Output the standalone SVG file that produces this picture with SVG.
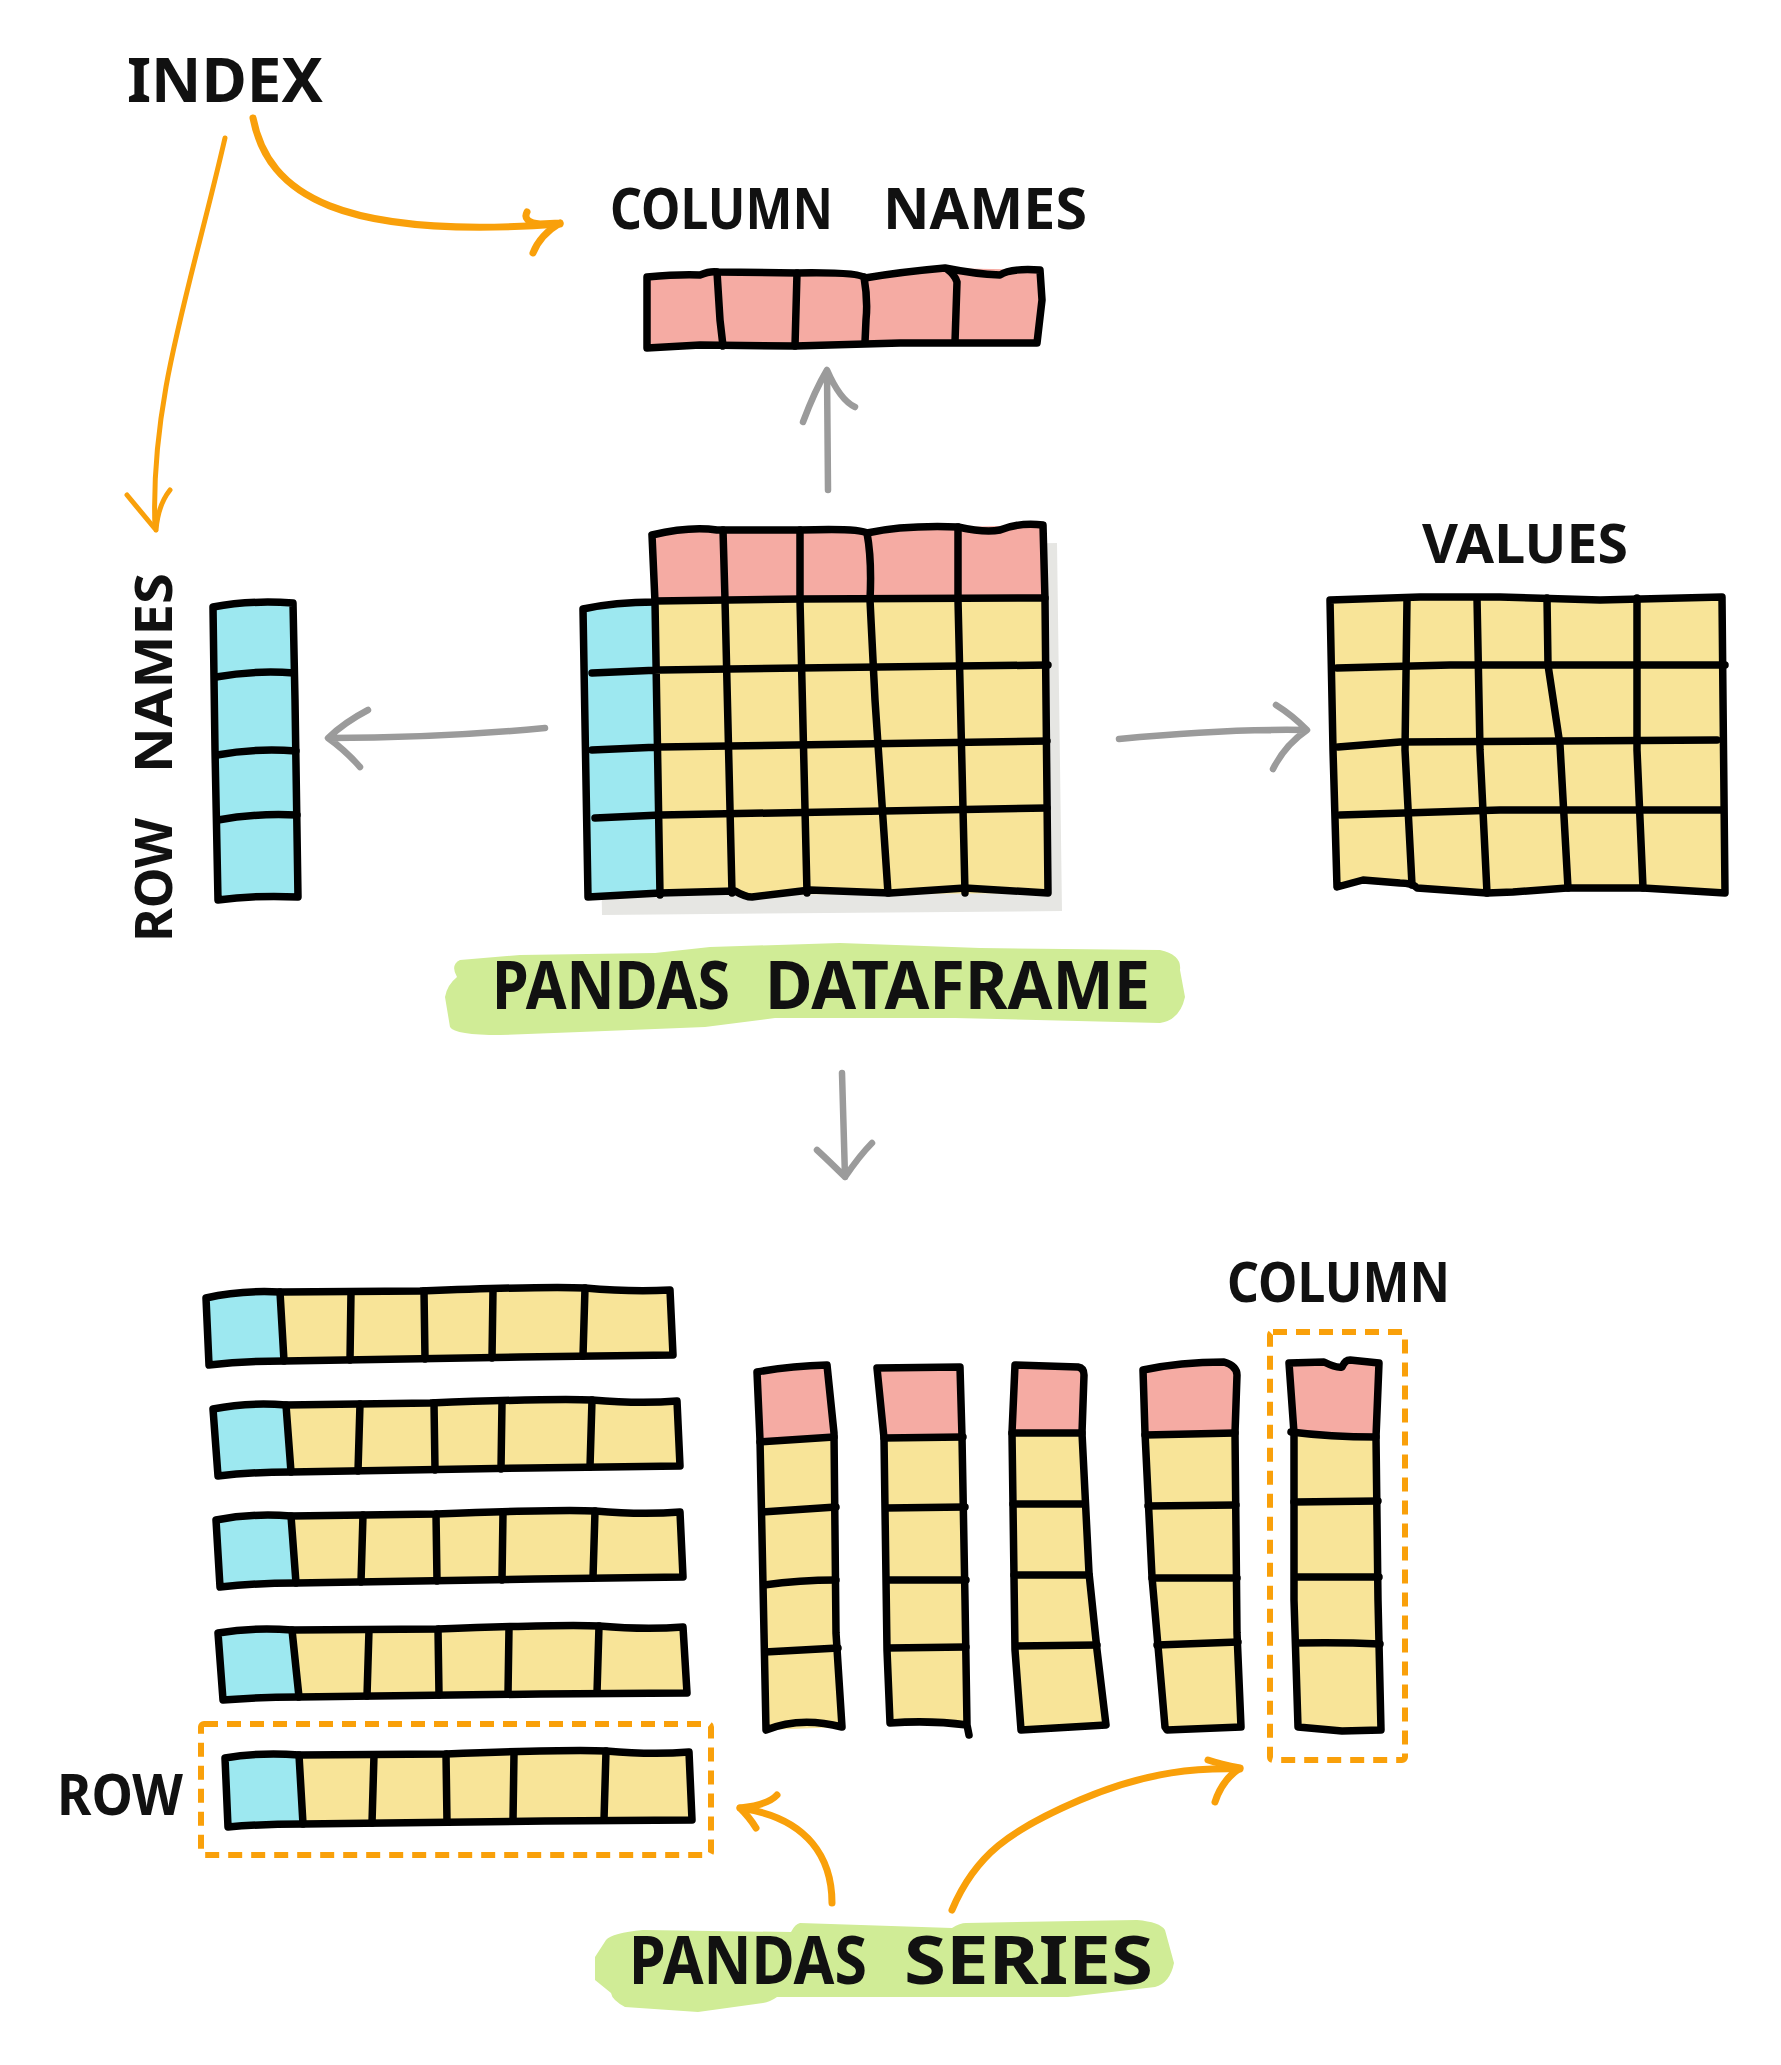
<svg xmlns="http://www.w3.org/2000/svg" width="1781" height="2065" viewBox="0 0 1781 2065">
<style>
.ln{fill:none;stroke:#000;stroke-width:7.5;stroke-linecap:round;stroke-linejoin:round}
.pink{fill:#F5ABA3}
.yel{fill:#F8E498}
.blu{fill:#9DE8F0}
.shd{fill:#E6E6E3}
.hl{fill:#D0EC96}
.oa{fill:none;stroke:#F9A00A;stroke-linecap:round;stroke-linejoin:round}
.ga{fill:none;stroke:#9B9B9B;stroke-width:6.5;stroke-linecap:round;stroke-linejoin:round}
.dash{fill:none;stroke:#F9A00A;stroke-width:6;stroke-dasharray:14 9}
.t{font-family:"Noto Sans","DejaVu Sans",sans-serif;font-weight:bold;fill:#111}
</style>
<rect width="1781" height="2065" fill="#fff"/>

<g id="label-index">
<text class="t" x="127" y="102" font-size="61" textLength="196" lengthAdjust="spacingAndGlyphs">INDEX</text>
</g>

<g id="label-column-names">
<text class="t" y="229" font-size="58"><tspan x="610" textLength="223" lengthAdjust="spacingAndGlyphs">COLUMN</tspan> <tspan x="883" textLength="204" lengthAdjust="spacingAndGlyphs">NAMES</tspan></text>
</g>

<g id="column-names-bar">
<polygon class="pink" points="647,277 717,272 797,273 863,275 940,268 1040,270 1037,343 647,348"/>
<path class="ln" d="M647,277 Q680,274 700,275 Q710,271 717,272 L797,273 Q860,272 865,278 Q900,272 945,268 Q975,274 1000,275 Q1010,268 1040,270 L1042,300 L1037,343 L900,343 L795,346 L700,345 L647,348 Z"/>
<path class="ln" d="M717,272 L720,320 L723,346 M797,273 L795,346 M864,277 Q868,300 866,320 L865,342 M947,269 Q955,275 957,282 L955,342"/>
</g>

<g id="label-row-names">
<text class="t" transform="translate(172,942) rotate(-90)" font-size="52"><tspan x="0" textLength="124" lengthAdjust="spacingAndGlyphs">ROW</tspan> <tspan x="169" textLength="200" lengthAdjust="spacingAndGlyphs">NAMES</tspan></text>
</g>

<g id="row-names-bar">
<polygon class="blu" points="213,607 293,603 298,897 218,900"/>
<path class="ln" d="M213,607 Q250,600 293,603 L295,700 L298,897 Q255,895 218,900 L215,750 Z"/>
<path class="ln" d="M216,677 Q255,670 294,673 M217,755 Q255,748 296,751 M218,820 Q255,813 297,815"/>
</g>

<g id="dataframe">
<polygon class="shd" points="666,551 1057,543 1062,911 602,915 597,625 669,620"/>
<polygon class="pink" points="652,533 717,530 800,530 867,532 958,527 1043,525 1045,600 655,602"/>
<polygon class="yel" points="655,601 1045,598 1048,893 660,895"/>
<polygon class="blu" points="583,607 655,602 660,895 588,897"/>
<path class="ln" d="M652,535 Q690,526 717,530 L800,530 Q860,528 867,533 Q905,525 958,527 Q985,533 1000,530 Q1020,522 1043,525 L1045,600 L1046,700 L1048,893 L965,888 L890,893 L810,890 L752,897 Q745,897 735,891 L660,893 L588,897 L583,609 Q615,602 655,602 L652,535"/>
<path class="ln" d="M655,601 L800,599 L1045,598 M592,673 L660,670 L800,668 L1048,665 M592,750 L660,747 L1047,741 M595,818 L660,815 L1047,808 M655,602 L660,895"/>
<path class="ln" d="M723,530 L725,600 L732,893 M800,530 L800,600 L807,893 M867,533 Q872,560 870,600 L875,700 L888,893 M958,527 L958,600 L965,893"/>
</g>

<g id="label-values">
<text class="t" x="1422" y="563" font-size="53" textLength="206" lengthAdjust="spacingAndGlyphs">VALUES</text>
</g>

<g id="values-grid">
<polygon class="yel" points="1330,600 1722,597 1725,893 1643,888 1567,888 1513,892 1487,893 1417,888 1413,883 1363,880 1337,887"/>
<path class="ln" d="M1330,600 L1420,597 L1500,597 L1600,600 L1722,597 L1723,700 L1725,893 L1643,888 L1567,888 L1513,892 L1487,893 L1417,888 Q1413,883 1400,883 L1363,880 L1337,887 L1333,750 Z"/>
<path class="ln" d="M1337,668 L1450,665 L1725,665 M1338,747 L1400,742 L1717,740 M1340,815 L1500,810 L1723,810"/>
<path class="ln" d="M1407,600 L1405,750 L1412,885 M1477,598 L1480,750 L1487,893 M1547,598 L1548,665 L1560,745 L1568,888 M1637,598 L1637,750 L1643,888"/>
</g>

<g id="label-pandas-dataframe">
<path class="hl" d="M460,960 L520,955 L655,953 L710,947 L840,943 L980,948 L1160,950 Q1182,955 1180,970 L1185,997 Q1180,1020 1160,1023 L955,1018 L775,1018 L705,1027 L580,1032 L500,1035 Q455,1035 450,1027 L445,997 Q447,985 457,977 Q450,965 460,960 Z"/>
<text class="t" y="1009" font-size="66"><tspan x="492" textLength="238" lengthAdjust="spacingAndGlyphs">PANDAS</tspan> <tspan x="765" textLength="385" lengthAdjust="spacingAndGlyphs">DATAFRAME</tspan></text>
</g>

<g id="row-series">
<g id="row-1">
<polygon class="blu" points="206,1298 280,1292 284,1361 209,1365"/>
<polygon class="yel" points="280,1292 670,1290 673,1355 284,1361"/>
<path class="ln" d="M206,1298 Q240,1290 280,1292 L420,1291 Q550,1286 585,1288 Q630,1292 670,1290 L673,1355 L520,1357 L284,1361 Q245,1361 209,1365 Z"/>
<path class="ln" d="M280,1292 L284,1361 M351,1292 L350,1360 M424,1291 L425,1359 M493,1290 L492,1358 M585,1288 L583,1356"/>
</g>
<g id="row-2">
<polygon class="blu" points="213,1409 286,1405 291,1472 218,1476"/>
<polygon class="yel" points="286,1405 677,1401 680,1466 291,1472"/>
<path class="ln" d="M213,1409 Q248,1402 286,1405 L430,1403 Q560,1398 592,1400 Q640,1404 677,1401 L680,1466 L530,1468 L291,1472 Q250,1472 218,1476 Z"/>
<path class="ln" d="M286,1405 L291,1472 M360,1404 L358,1471 M434,1403 L435,1470 M502,1402 L501,1469 M592,1400 L590,1467"/>
</g>
<g id="row-3">
<polygon class="blu" points="216,1520 291,1516 296,1583 220,1587"/>
<polygon class="yel" points="291,1516 680,1512 683,1577 296,1583"/>
<path class="ln" d="M216,1520 Q252,1513 291,1516 L436,1514 Q565,1509 595,1511 Q642,1515 680,1512 L683,1577 L535,1579 L296,1583 Q255,1583 220,1587 Z"/>
<path class="ln" d="M291,1516 L296,1583 M363,1515 L361,1582 M436,1514 L437,1581 M503,1513 L502,1580 M595,1511 L593,1578"/>
</g>
<g id="row-4">
<polygon class="blu" points="218,1633 292,1630 299,1697 223,1700"/>
<polygon class="yel" points="292,1630 683,1627 687,1693 299,1697"/>
<path class="ln" d="M218,1633 Q254,1627 292,1630 L438,1629 Q568,1624 599,1626 Q645,1630 683,1627 L687,1693 L540,1694 L299,1697 Q258,1697 223,1700 Z"/>
<path class="ln" d="M292,1630 L299,1697 M369,1630 L367,1696 M438,1629 L439,1695 M509,1628 L508,1694 M599,1626 L597,1693"/>
</g>
<g id="row-5">
<polygon class="blu" points="225,1758 299,1755 303,1824 228,1827"/>
<polygon class="yel" points="299,1755 689,1752 692,1820 303,1824"/>
<path class="ln" d="M225,1758 Q260,1752 299,1755 L446,1754 Q575,1749 606,1751 Q652,1755 689,1752 L692,1820 L545,1821 L303,1824 Q262,1824 228,1827 Z"/>
<path class="ln" d="M299,1755 L303,1824 M374,1755 L372,1823 M446,1754 L447,1822 M514,1753 L513,1821 M606,1751 L604,1820"/>
</g>
<rect class="dash" x="201" y="1724" width="510" height="131" rx="3"/>
</g>

<g id="label-row">
<text class="t" x="57" y="1815" font-size="58" textLength="126" lengthAdjust="spacingAndGlyphs">ROW</text>
</g>

<g id="column-series">
<g id="col-1">
<polygon class="pink" points="757,1372 827,1365 834,1437 760,1442"/>
<polygon class="yel" points="760,1440 834,1436 836,1633 842,1727 766,1730 764,1633"/>
<path class="ln" d="M757,1372 Q790,1366 827,1365 L834,1433 L836,1633 L842,1727 Q800,1716 766,1730 L764,1633 L760,1440 Z"/>
<path class="ln" d="M760,1442 L834,1437 M762,1512 L836,1507 M764,1585 Q800,1580 836,1580 M765,1652 L838,1648"/>
</g>
<g id="col-2">
<polygon class="pink" points="877,1368 960,1367 962,1437 884,1438"/>
<polygon class="yel" points="884,1438 962,1437 967,1725 890,1723 887,1650"/>
<path class="ln" d="M877,1368 L960,1367 L962,1437 L965,1600 L967,1725 L969,1735 M967,1725 Q930,1720 890,1723 L887,1650 L884,1438 L877,1368"/>
<path class="ln" d="M884,1438 L963,1437 M886,1508 L965,1507 M887,1580 L966,1580 M888,1648 L966,1647"/>
</g>
<g id="col-3">
<polygon class="pink" points="1015,1365 1078,1367 1084,1375 1082,1433 1012,1433"/>
<polygon class="yel" points="1012,1433 1082,1433 1089,1573 1106,1725 1021,1730 1015,1650"/>
<path class="ln" d="M1015,1365 L1078,1367 Q1084,1368 1084,1375 L1082,1433 L1089,1573 L1097,1650 L1106,1725 L1021,1730 L1015,1650 L1012,1433 Z"/>
<path class="ln" d="M1012,1433 L1082,1433 M1013,1504 L1085,1504 M1014,1575 L1089,1575 M1016,1646 L1097,1645"/>
</g>
<g id="col-4">
<polygon class="pink" points="1143,1370 1224,1362 1237,1375 1235,1433 1145,1433"/>
<polygon class="yel" points="1145,1433 1235,1433 1237,1633 1241,1727 1167,1730 1152,1577"/>
<path class="ln" d="M1143,1370 Q1180,1362 1224,1362 Q1237,1366 1237,1375 L1235,1433 L1237,1633 L1241,1727 L1167,1730 L1165,1727 L1152,1577 L1145,1433 Z"/>
<path class="ln" d="M1145,1435 L1235,1433 M1148,1506 L1236,1505 M1152,1578 L1237,1578 M1157,1645 L1238,1642"/>
</g>
<g id="col-5">
<polygon class="pink" points="1289,1363 1324,1362 1342,1367 1350,1360 1379,1363 1376,1437 1291,1432"/>
<polygon class="yel" points="1291,1432 1376,1437 1381,1727 1342,1731 1298,1727"/>
<path class="ln" d="M1289,1363 L1324,1362 Q1336,1368 1342,1367 Q1345,1360 1350,1360 L1379,1363 L1376,1437 L1378,1600 L1381,1730 L1342,1731 L1298,1727 L1294,1600 L1294,1433 L1289,1363"/>
<path class="ln" d="M1291,1432 Q1330,1437 1376,1437 M1294,1502 L1378,1501 M1295,1577 L1379,1577 M1296,1643 Q1340,1642 1380,1644"/>
</g>
<rect class="dash" x="1270" y="1332" width="135" height="428" rx="3"/>
</g>

<g id="label-column">
<text class="t" x="1227" y="1302" font-size="56" textLength="223" lengthAdjust="spacingAndGlyphs">COLUMN</text>
</g>

<g id="label-pandas-series">
<path class="hl" d="M606,1940 Q612,1933 643,1930 L791,1932 Q795,1924 800,1923 L952,1928 Q960,1923 966,1923 L1137,1920 Q1160,1922 1165,1930 L1174,1963 Q1170,1983 1155,1987 L1068,1997 L777,1997 Q770,2002 763,2003 L698,2012 L625,2007 Q612,2000 611,1993 L595,1980 L595,1957 Z"/>
<text class="t" y="1984" font-size="67"><tspan x="629" textLength="238" lengthAdjust="spacingAndGlyphs">PANDAS</tspan> <tspan x="904" textLength="249" lengthAdjust="spacingAndGlyphs">SERIES</tspan></text>
</g>

<g id="connectors">
<path class="oa" stroke-width="5" d="M225,138 C190,290 150,400 155,528"/>
<path class="oa" stroke-width="5" d="M127,495 L156,530 M170,490 Q158,505 156,530"/>
<path class="oa" stroke-width="7" d="M253,118 C268,195 340,240 560,224"/>
<path class="oa" stroke-width="7" d="M527,212 Q522,222 540,224 L560,223 M533,253 Q540,235 560,223"/>
<path class="oa" stroke-width="7" d="M832,1903 C832,1860 810,1818 740,1808"/>
<path class="oa" stroke-width="7" d="M777,1795 Q768,1805 740,1808 Q750,1818 756,1828"/>
<path class="oa" stroke-width="7" d="M952,1910 C975,1855 1010,1830 1080,1800 C1150,1770 1200,1768 1240,1769"/>
<path class="oa" stroke-width="7" d="M1208,1760 Q1220,1764 1240,1768 Q1222,1780 1215,1802"/>
<path class="ga" d="M828,490 L827,372 M803,422 Q815,390 827,370 Q840,400 855,407"/>
<path class="ga" d="M545,728 C470,735 400,738 329,738 M368,710 Q345,722 328,738 Q345,750 360,767"/>
<path class="ga" d="M1119,739 C1180,733 1240,729 1305,730 M1276,705 Q1292,715 1307,730 Q1285,745 1273,769"/>
<path class="ga" d="M842,1073 L845,1177 M817,1150 Q830,1162 845,1177 Q860,1155 872,1143"/>
</g>
</svg>
